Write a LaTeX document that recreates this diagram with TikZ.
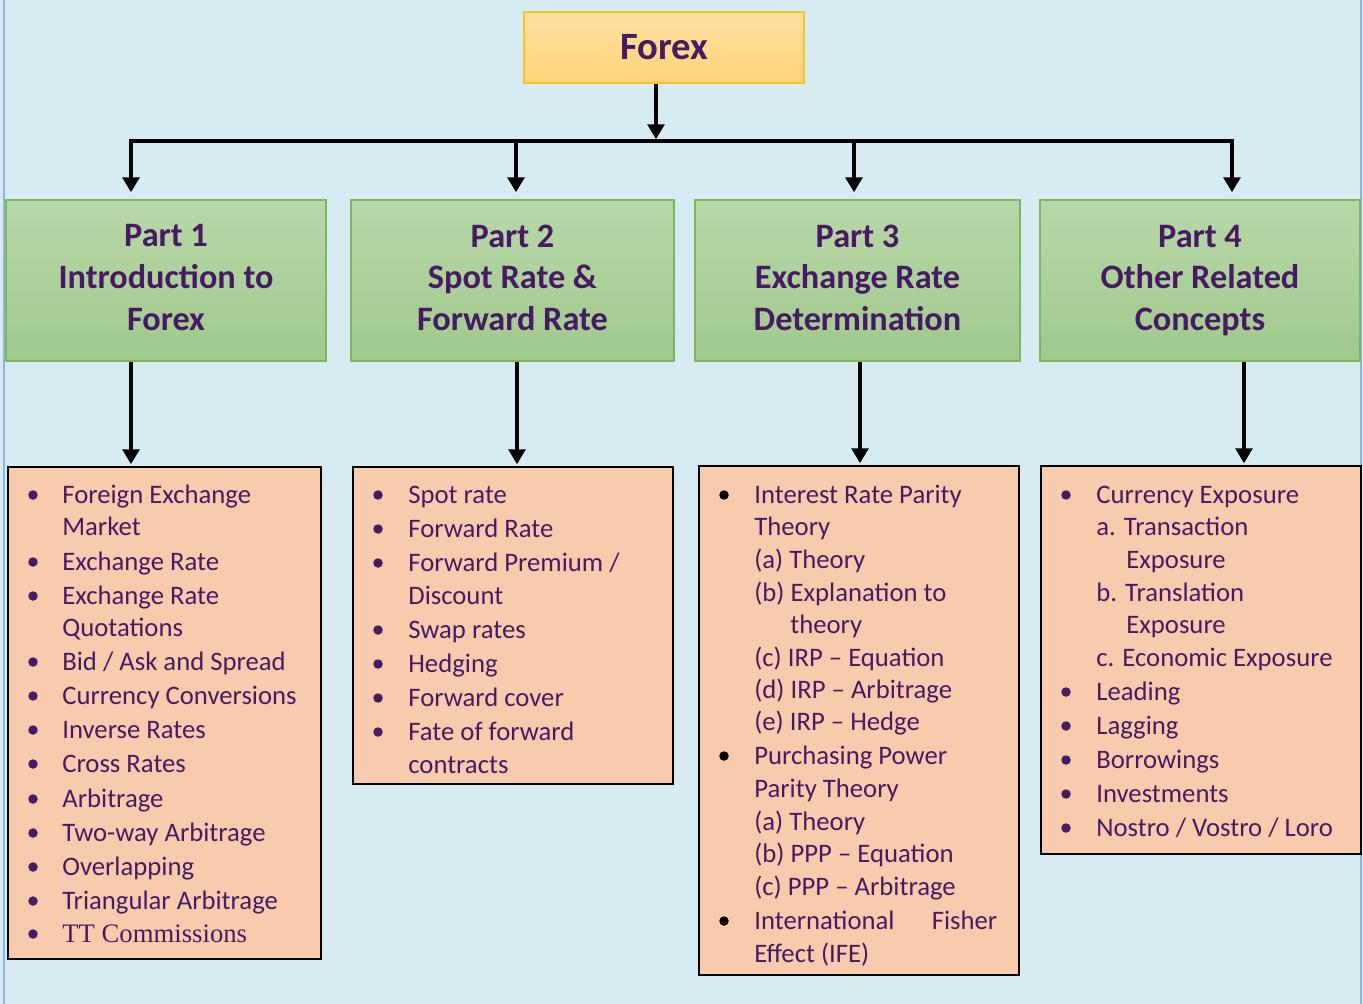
\documentclass[tikz,border=0pt]{standalone}
\usepackage{fontspec}
\setmainfont{Carlito}
\newfontfamily\timesfont{Liberation Serif}
\usepackage{xcolor}
\usepackage{tikz}
\usetikzlibrary{arrows.meta, positioning, calc}

\definecolor{fxpurple}{RGB}{72,26,100}
\definecolor{fxsky}{RGB}{214,235,242}
\definecolor{fxedge}{RGB}{141,180,226}
\definecolor{fxgold}{RGB}{248,196,30}
\definecolor{fxgoldtop}{RGB}{255,223,160}
\definecolor{fxgoldbot}{RGB}{255,212,122}
\definecolor{fxgreen}{RGB}{124,182,92}
\definecolor{fxgreentop}{RGB}{184,216,168}
\definecolor{fxgreenbot}{RGB}{160,201,140}
\definecolor{fxpeach}{RGB}{248,203,173}

\begin{document}
\begin{tikzpicture}[
  x=0.02cm, y=-0.02cm,
  rootbox/.style={
    rectangle, draw=fxgold, line width=0.8pt,
    top color=fxgoldtop, bottom color=fxgoldbot,
    minimum width=5.6cm, minimum height=1.42cm, inner sep=0pt,
    font=\fontsize{22}{26}\selectfont\bfseries, text=fxpurple},
  partbox/.style={
    rectangle, draw=fxgreen, line width=0.8pt,
    top color=fxgreentop, bottom color=fxgreenbot,
    minimum height=3.22cm, inner sep=0pt, align=center,
    font=\fontsize{19.5}{23.8}\selectfont\bfseries, text=fxpurple},
  listbox/.style={
    rectangle, draw=black, line width=1.3pt, fill=fxpeach,
    inner sep=0pt, anchor=north west},
  item/.style={anchor=base west, inner sep=0pt,
    font=\fontsize{15.2}{18}\selectfont, text=fxpurple},
  dot/.style={circle, fill=fxpurple, inner sep=0pt, minimum size=0.19cm},
  conn/.style={-{Triangle[width=9.5pt, length=8.5pt]},
    line width=2.2pt, draw=black},
]

\useasboundingbox (0,0) rectangle (1363,1004);
\fill[fxsky] (0,0) rectangle (1363,1004);
\draw[fxedge, line width=1.1pt] (4,0) -- (4,1004);
\draw[fxedge, line width=1.1pt] (1361,0) -- (1361,1004);

%% ---- Root ----
\node[rootbox] (forex) at (664,47.5) {Forex};

%% ---- Parts ----
\node[partbox, minimum width=6.4cm]  (p1) at (166,280.5)   {Part 1\\Introduction to\\Forex\vphantom{g}};
\node[partbox, minimum width=6.46cm] (p2) at (512.5,280.5) {Part 2\\Spot Rate \&\\Forward Rate\vphantom{g}};
\node[partbox, minimum width=6.5cm]  (p3) at (857.5,280.5) {Part 3\\Exchange Rate\\Determination\vphantom{g}};
\node[partbox, minimum width=6.4cm]  (p4) at (1200,280.5)  {Part 4\\Other Related\\Concepts};

%% ---- Topic lists ----
\node[listbox, minimum width=6.26cm, minimum height=9.84cm]  (l1) at (7,466)    {};
\node[listbox, minimum width=6.4cm,  minimum height=6.34cm]  (l2) at (352,466)  {};
\node[listbox, minimum width=6.4cm,  minimum height=10.18cm] (l3) at (698,465)  {};
\node[listbox, minimum width=6.4cm,  minimum height=7.76cm]  (l4) at (1040,465) {};

%% ---- Connectors ----
\coordinate (hub) at (656,141);
\coordinate (b1) at (131,141);
\coordinate (b2) at (516,141);
\coordinate (b3) at (854,141);
\coordinate (b4) at (1232,141);

\draw[conn, shorten >=1pt] (forex.south -| hub) -- (hub);
\draw[conn, shorten >=4pt] (b4) -- (b1) -- (b1 |- p1.north);
\draw[conn, shorten >=4pt] (b1) -- (b4) -- (b4 |- p4.north);
\draw[conn, shorten >=4pt] (b2) -- (b2 |- p2.north);
\draw[conn, shorten >=4pt] (b3) -- (b3 |- p3.north);

\coordinate (d1) at (131,400);
\coordinate (d2) at (517,400);
\coordinate (d3) at (860,400);
\coordinate (d4) at (1244,400);

\draw[conn, shorten >=1pt] (d1 |- p1.south) -- (d1 |- l1.north);
\draw[conn, shorten >=1pt] (d2 |- p2.south) -- (d2 |- l2.north);
\draw[conn, shorten >=1pt] (d3 |- p3.south) -- (d3 |- l3.north);
\draw[conn, shorten >=1pt] (d4 |- p4.south) -- (d4 |- l4.north);

%% ---- Part 1 items ----
\foreach \dx/\y/\bu/\txt in {
  0/503/1/Foreign Exchange,
  0/535/0/Market,
  0/570/1/Exchange Rate,
  0/604/1/Exchange Rate,
  0/636/0/Quotations,
  0/670/1/{Bid / Ask and Spread},
  0/704/1/Currency Conversions,
  0/738/1/Inverse Rates,
  0/772/1/Cross Rates,
  0/807/1/Arbitrage,
  0/841/1/Two-way Arbitrage,
  0/875/1/Overlapping,
  0/909/1/Triangular Arbitrage,
  0/942/1/{\timesfont TT Commissions}}{
  \node[item] (a-\y) at (62+\dx,\y) {\txt};
  \ifnum\bu=1 \node[dot] (ab-\y) at (33,\y-8) {}; \fi
}

%% ---- Part 2 items ----
\foreach \dx/\y/\bu/\txt in {
  0/503/1/Spot rate,
  0/537/1/Forward Rate,
  0/571/1/{Forward Premium /},
  0/604/0/Discount,
  0/638/1/Swap rates,
  0/672/1/Hedging,
  0/706/1/Forward cover,
  0/740/1/Fate of forward,
  0/773/0/contracts}{
  \node[item] (b-\y) at (408+\dx,\y) {\txt};
  \ifnum\bu=1 \node[dot] (bb-\y) at (378,\y-8) {}; \fi
}

%% ---- Part 3 items ----
\foreach \dx/\y/\bu/\txt in {
  0/503/1/Interest Rate Parity,
  0/535/0/Theory,
  0/568/0/(a) Theory,
  0/601/0/(b) Explanation to,
  36/633/0/theory,
  0/666/0/(c) IRP – Equation,
  0/698/0/(d) IRP – Arbitrage,
  0/730/0/(e) IRP – Hedge,
  0/764/1/Purchasing Power,
  0/797/0/Parity Theory,
  0/830/0/(a) Theory,
  0/862/0/(b) PPP – Equation,
  0/895/0/(c) PPP – Arbitrage,
  0/929/1/{\makebox[4.86cm][l]{International\hfill Fisher}},
  0/962/0/Effect (IFE)}{
  \node[item] (c-\y) at (754+\dx,\y) {\txt};
  \ifnum\bu=1 \node[dot, fill=black] (cb-\y) at (724,\y-8) {}; \fi
}

%% ---- Part 4 items ----
\foreach \dx/\y/\bu/\txt in {
  0/503/1/Currency Exposure,
  0/535/0/a. Transaction,
  30/568/0/Exposure,
  0/601/0/b. Translation,
  30/633/0/Exposure,
  0/666/0/c. Economic Exposure,
  0/700/1/Leading,
  0/734/1/Lagging,
  0/768/1/Borrowings,
  0/802/1/Investments,
  0/836/1/{Nostro / Vostro / Loro}}{
  \node[item] (e-\y) at (1096+\dx,\y) {\txt};
  \ifnum\bu=1 \node[dot] (eb-\y) at (1066,\y-8) {}; \fi
}

\end{tikzpicture}
\end{document}
